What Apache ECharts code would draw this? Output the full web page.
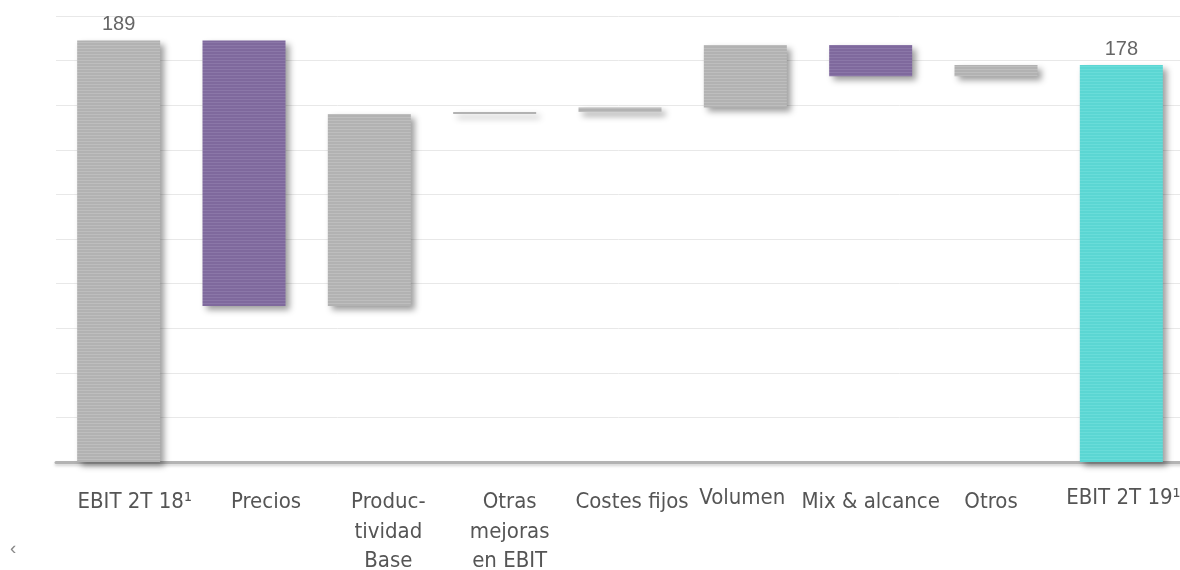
<!DOCTYPE html>
<html>
<head>
<meta charset="utf-8">
<title>EBIT 2T 18 – 2T 19</title>
<script src="https://cdn.jsdelivr.net/npm/echarts@6/dist/echarts.min.js"></script>
<style>
  html, body { margin: 0; padding: 0; background: #ffffff; }
  #chart { width: 1180px; height: 570px; }
</style>
</head>
<body>
<div id="chart"></div>
<script>
// Bridge categories (first and last are totals)
const categories = [
  'EBIT 2T 18¹',
  'Precios',
  'Produc-\ntividad\nBase',
  'Otras\nmejoras\nen EBIT',
  'Costes fijos',
  'Volumen',
  'Mix & alcance',
  'Otros',
  'EBIT 2T 19¹'
];
// Totals are absolute values, the rest are changes
const values = [189, -119, 86, 1, 2, 28, -14, 5, 178];
const isTotal = [true, false, false, false, false, false, false, false, true];
const yTicks = [0, 20, 40, 60, 80, 100, 120, 140, 160, 180, 200];

// Label nudges (px): horizontal shift and vertical shift of each category label
const labelShiftX = [16, 22, 19, 15, 12, -3, 0, -5, 2];
const labelShiftY = [0, 0, 0, 0, 0, -4, 0, 0, -4];

const GRAY = '#b2b2b2', PURPLE = '#7f699d', TEAL = '#5bd6d3';

// Horizontal fine-line texture used on the bars
function stripes(base, light) {
  const c = document.createElement('canvas');
  c.width = 4; c.height = 3;
  const g = c.getContext('2d');
  g.fillStyle = base; g.fillRect(0, 0, 4, 3);
  g.fillStyle = light; g.fillRect(0, 0, 4, 1);
  return { image: c, repeat: 'repeat' };
}
const fills = {
  gray: stripes(GRAY, '#bebebe'),
  purple: stripes(PURPLE, '#8b77a8'),
  teal: stripes(TEAL, '#69dcd9')
};

// Build the floating base and visible segment of every bar
const baseData = [], barData = [];
let running = 0;
values.forEach((v, i) => {
  let lo, h, fill;
  if (isTotal[i]) {
    lo = 0; h = v; running = v;
    fill = i === values.length - 1 ? fills.teal : fills.gray;
  } else {
    const end = running + v;
    lo = Math.min(running, end); h = Math.abs(v); running = end;
    fill = v < 0 ? fills.purple : fills.gray;
  }
  baseData.push(lo);
  barData.push({
    value: h,
    itemStyle: { color: fill },
    label: { show: isTotal[i] }
  });
});

// Rich styles that carry the per-label nudges
const rich = {};
categories.forEach((c, i) => {
  const dx = labelShiftX[i], dy = labelShiftY[i];
  const padL = dx > 0 ? 2 * dx : 0, padR = dx < 0 ? -2 * dx : 0;
  const padT = dy > 0 ? 2 * dy : 0, padB = dy < 0 ? -2 * dy : 0;
  rich['f' + i] = { padding: [padT, padR, padB, padL] };
  rich['n' + i] = { padding: [0, padR, 0, padL] };
});

const chart = echarts.init(document.getElementById('chart'));
chart.setOption({
  animation: false,
  backgroundColor: '#ffffff',
  grid: {
    left: 56, top: 16, width: 1128, height: 446,
    containLabel: false,
    outerBoundsMode: 'none'
  },
  xAxis: {
    type: 'category',
    data: categories,
    axisTick: { show: false },
    axisLine: {
      lineStyle: {
        color: '#b3b3b3', width: 3,
        shadowColor: 'rgba(0,0,0,0.18)', shadowBlur: 3, shadowOffsetY: 2
      }
    },
    axisLabel: {
      interval: 0,
      margin: 26,
      color: '#555555',
      fontFamily: '"Liberation Sans Narrow", "DejaVu Sans Condensed", sans-serif',
      fontSize: 22,
      lineHeight: 29.5,
      rich: Object.assign({}, rich),
      formatter: (val, idx) => val.split('\n')
        .map((line, k) => '{' + (k === 0 ? 'f' : 'n') + idx + '|' + line + '}')
        .join('\n')
    }
  },
  yAxis: {
    type: 'value',
    min: yTicks[0],
    max: yTicks[yTicks.length - 1],
    interval: yTicks[1] - yTicks[0],
    axisLine: { show: false },
    axisTick: { show: false },
    axisLabel: { show: false },
    splitLine: { lineStyle: { color: '#e8e8e8', width: 1 } }
  },
  series: [
    {
      type: 'bar',
      stack: 'bridge',
      barWidth: 83,
      silent: true,
      itemStyle: { color: 'transparent' },
      data: baseData
    },
    {
      type: 'bar',
      stack: 'bridge',
      barWidth: 83,
      itemStyle: {
        shadowColor: 'rgba(0,0,0,0.38)',
        shadowBlur: 6,
        shadowOffsetX: 4,
        shadowOffsetY: 4
      },
      label: {
        position: 'top',
        distance: 6,
        color: '#666666',
        fontFamily: '"Liberation Sans", Arial, sans-serif',
        fontSize: 20,
        formatter: '{c}'
      },
      data: barData
    }
  ],
  graphic: [
    {
      type: 'text',
      left: 10,
      top: 539,
      style: { text: '‹', fill: '#888888', fontSize: 19, fontFamily: '"Liberation Sans", sans-serif' }
    }
  ]
});
</script>
</body>
</html>
